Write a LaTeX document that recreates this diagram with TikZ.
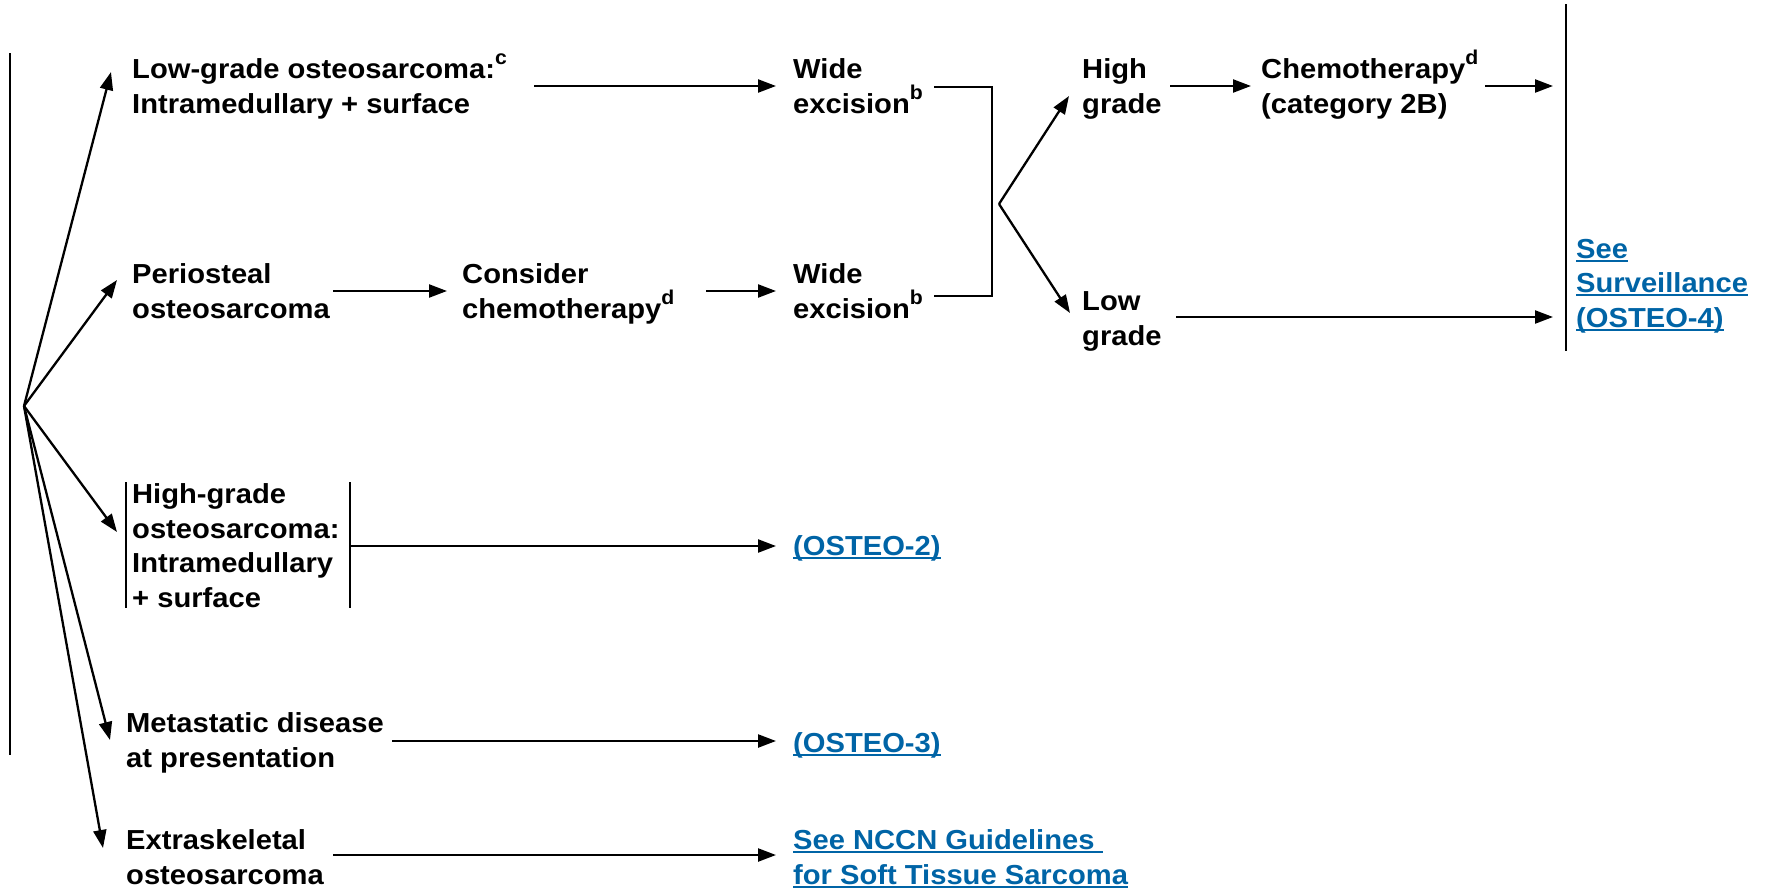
\documentclass[tikz,border=0pt]{standalone}
\usepackage{fontspec}
\setmainfont{Liberation Sans}[FakeStretch=1.06]
\usetikzlibrary{arrows.meta}
\definecolor{lnkblue}{RGB}{0,100,166}
\newcommand\supx[1]{\raisebox{0.5em}{\fontsize{20}{20}\selectfont #1}}
\newcommand\lnk[1]{\setbox0\hbox{#1}\rlap{\rule[-3.5pt]{\wd0}{2pt}}\box0}
\tikzset{
  txt/.style={anchor=base west, inner sep=0pt, align=left},
  lnktxt/.style={txt, text=lnkblue},
  ln/.style={line width=2.3pt},
  arr/.style={line width=2.3pt, -{Triangle[length=18pt,width=13pt]}}
}
\begin{document}
\begin{tikzpicture}[x=1pt, y=-1pt, font=\bfseries\fontsize{27.5}{34.5}\selectfont]
\useasboundingbox (0,0) rectangle (1766,889);
% text nodes (anchored at the baseline of their last line)
\node[txt] (lg) at (132,113) {Low-grade osteosarcoma:\supx{c}\\Intramedullary + surface};
\node[txt] (per) at (132,318) {Periosteal\\osteosarcoma};
\node[txt] (hg) at (132,607) {High-grade\\osteosarcoma:\\Intramedullary\\+ surface};
\node[txt] (met) at (126,767) {Metastatic disease\\at presentation};
\node[txt] (ext) at (126,884) {Extraskeletal\\osteosarcoma};
\node[txt] (cons) at (462,318) {Consider\\chemotherapy\supx{d}};
\node[txt] (w1) at (793,113) {Wide\\excision\supx{b}};
\node[txt] (w2) at (793,318) {Wide\\excision\supx{b}};
\node[txt] (hgr) at (1082,113) {High\\grade};
\node[txt] (lgr) at (1082,345) {Low\\grade};
\node[txt] (chem) at (1261,113) {Chemotherapy\supx{d}\\(category 2B)};
\node[lnktxt] (surv) at (1576,327) {\lnk{See}\\\lnk{Surveillance}\\\lnk{(OSTEO-4)}};
\node[lnktxt] (o2) at (793,555) {\lnk{(OSTEO-2)}};
\node[lnktxt] (o3) at (793,752) {\lnk{(OSTEO-3)}};
\node[lnktxt] (nccn) at (793,884) {\lnk{See NCCN Guidelines\ }\\\lnk{for Soft Tissue Sarcoma}};
% coordinates
\coordinate (hub) at (24,406);
\coordinate (t1) at (111,72);
\coordinate (t2) at (117,280);
\coordinate (t3) at (117,532);
\coordinate (t4) at (110,740);
\coordinate (t5) at (103,848);
\coordinate (br) at (999,204);
% left bar and fan
\draw[ln] (10,53) -- (10,755);
\foreach \t in {t1,t2,t3,t4,t5} \draw[arr] (hub) -- (\t);
% high-grade box bars
\draw[ln] (126,482) -- (126,608);
\draw[ln] (350,482) -- (350,608);
% horizontal arrows
\draw[arr] (534,86) -- (776,86);
\draw[arr] (333,291) -- (447,291);
\draw[arr] (706,291) -- (776,291);
\draw[arr] (351,546) -- (776,546);
\draw[arr] (392,741) -- (776,741);
\draw[arr] (333,855) -- (776,855);
% bracket and branch
\draw[ln] (934,87) -- (992,87) -- (992,296) -- (934,296);
\draw[arr] (br) -- (1069,96);
\draw[arr] (br) -- (1070,313);
\draw[arr] (1170,86) -- (1251,86);
\draw[arr] (1485,86) -- (1553,86);
\draw[arr] (1176,317) -- (1553,317);
\draw[ln] (1566,4) -- (1566,351);
\end{tikzpicture}
\end{document}
